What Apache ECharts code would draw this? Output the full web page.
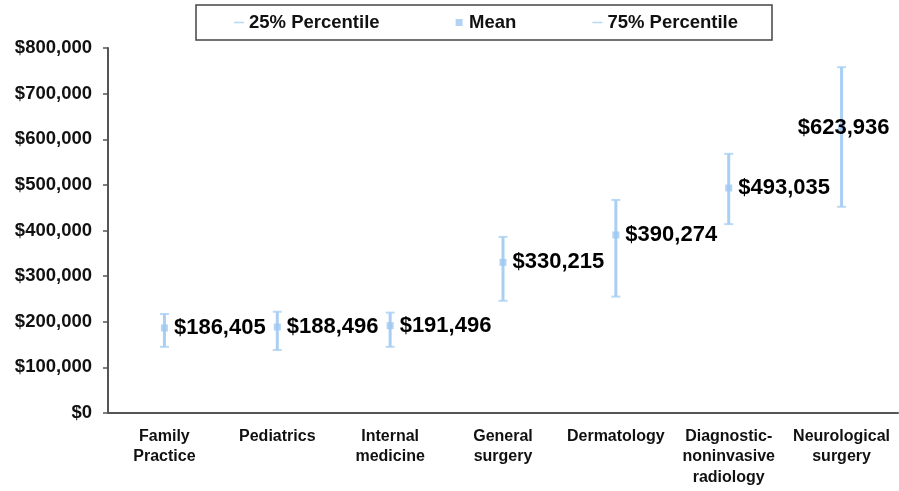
<!DOCTYPE html>
<html><head><meta charset="utf-8">
<script src="https://cdn.jsdelivr.net/npm/echarts@6/dist/echarts.min.js"></script>
<style>html,body{margin:0;padding:0;background:#fff}#c{width:899px;height:491px}</style>
</head><body><div id="c"></div>
<script>
const categories = ['Family\nPractice','Pediatrics','Internal\nmedicine','General\nsurgery','Dermatology','Diagnostic-\nnoninvasive\nradiology','Neurological\nsurgery'];
const p25 = [145000,138000,145000,246000,255000,414000,452000];
const meanVals = [186405,188496,191496,330215,390274,493035,623936];
const p75 = [217000,222000,220000,386000,467000,568000,758000];
const yMin = 0, yMax = 800000, yStep = 100000;

const blue = '#a9cff3';
const font = 'Liberation Sans, Arial, sans-serif';
const chart = echarts.init(document.getElementById('c'));
chart.setOption({
  animation:false,
  grid:{left:108,right:1,top:48,bottom:78},
  legend:{
    left:196, top:5, borderColor:'#444', borderWidth:1.5, padding:[8,34,8,38],
    itemGap:76, itemWidth:10, itemHeight:7,
    textStyle:{fontFamily:font,fontWeight:'bold',fontSize:18.5,color:'#111'},
    data:[
      {name:'25% Percentile',icon:'path://M0,0L10,0L10,1.5L0,1.5Z'},
      {name:'Mean',icon:'path://M0,0L1,0L1,1L0,1Z'},
      {name:'75% Percentile',icon:'path://M0,0L10,0L10,1.5L0,1.5Z'}
    ]
  },
  xAxis:{type:'category',data:categories,
    axisLine:{lineStyle:{color:'#555',width:2}},
    axisTick:{lineStyle:{color:'#555',width:1.5},length:5},
    axisLabel:{fontFamily:font,fontWeight:'bold',fontSize:16,color:'#111',lineHeight:20.5,margin:13,interval:0}
  },
  yAxis:{type:'value',min:yMin,max:yMax,interval:yStep,
    splitLine:{show:false},
    axisLine:{show:true,lineStyle:{color:'#555',width:2}},
    axisTick:{show:true,length:5,lineStyle:{color:'#555',width:1.5}},
    axisLabel:{fontFamily:font,fontWeight:'bold',fontSize:18.5,color:'#111',margin:16,
      formatter:v=>'$'+v.toLocaleString('en-US')}
  },
  series:[
    {type:'custom',name:'range',z:1,
     data:categories.map((c,i)=>[i,p25[i],p75[i]]),
     renderItem:function(params,api){
       const a=api.coord([api.value(0),api.value(1)]);
       const b=api.coord([api.value(0),api.value(2)]);
       return {type:'line',shape:{x1:a[0],y1:a[1],x2:b[0],y2:b[1]},style:{stroke:blue,lineWidth:3}};
     }},
    {type:'scatter',name:'25% Percentile',z:2,data:p25,symbol:'rect',symbolSize:[9,2],itemStyle:{color:blue}},
    {type:'scatter',name:'75% Percentile',z:2,data:p75,symbol:'rect',symbolSize:[9,2],itemStyle:{color:blue}},
    {type:'scatter',name:'Mean',z:3,symbol:'rect',symbolSize:7,itemStyle:{color:'#9fc8f0'},
     data:meanVals.map((v,i)=>i===meanVals.length-1?{value:v,label:{position:'inside',offset:[2,0]}}:v),
     label:{show:true,position:'right',distance:6,fontFamily:font,fontWeight:'bold',fontSize:22,color:'#000',
       textBorderWidth:0,opacity:1,
       formatter:p=>'$'+p.value.toLocaleString('en-US')}}
  ]
});
</script></body></html>
